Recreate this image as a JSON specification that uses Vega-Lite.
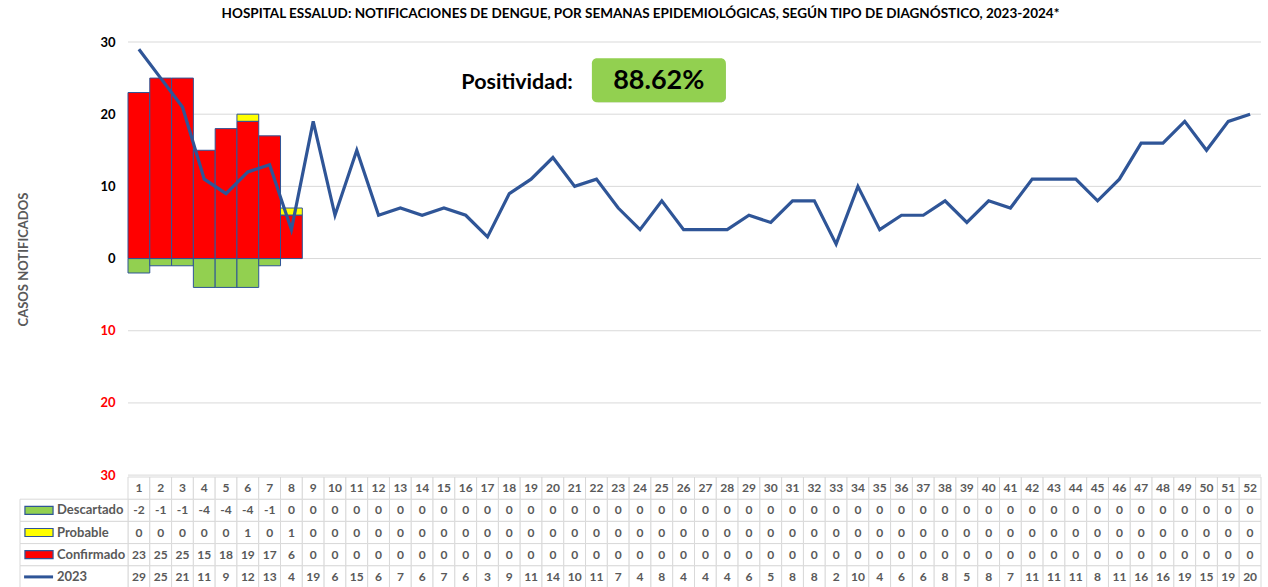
{
  "$schema": "https://vega.github.io/schema/vega-lite/v6.json",
  "autosize": "none",
  "width": 1241,
  "height": 545,
  "padding": {"left": 20, "top": 42, "right": 7, "bottom": 0},
  "title": {
    "text": "HOSPITAL  ESSALUD:  NOTIFICACIONES  DE  DENGUE,  POR SEMANAS EPIDEMIOLÓGICAS,   SEGÚN  TIPO DE DIAGNÓSTICO,  2023-2024*",
    "font": "Lato", "fontSize": 13.5, "fontWeight": "bold", "color": "#000000",
    "anchor": "middle", "offset": 16
  },
  "config": {"view": {"stroke": null}, "font": "Lato"},
  "datasets": {
    "weeks": [
      {"week": 1, "Descartado": -2, "Probable": 0, "Confirmado": 23, "L2023": 29},
      {"week": 2, "Descartado": -1, "Probable": 0, "Confirmado": 25, "L2023": 25},
      {"week": 3, "Descartado": -1, "Probable": 0, "Confirmado": 25, "L2023": 21},
      {"week": 4, "Descartado": -4, "Probable": 0, "Confirmado": 15, "L2023": 11},
      {"week": 5, "Descartado": -4, "Probable": 0, "Confirmado": 18, "L2023": 9},
      {"week": 6, "Descartado": -4, "Probable": 1, "Confirmado": 19, "L2023": 12},
      {"week": 7, "Descartado": -1, "Probable": 0, "Confirmado": 17, "L2023": 13},
      {"week": 8, "Descartado": 0, "Probable": 1, "Confirmado": 6, "L2023": 4},
      {"week": 9, "Descartado": 0, "Probable": 0, "Confirmado": 0, "L2023": 19},
      {"week": 10, "Descartado": 0, "Probable": 0, "Confirmado": 0, "L2023": 6},
      {"week": 11, "Descartado": 0, "Probable": 0, "Confirmado": 0, "L2023": 15},
      {"week": 12, "Descartado": 0, "Probable": 0, "Confirmado": 0, "L2023": 6},
      {"week": 13, "Descartado": 0, "Probable": 0, "Confirmado": 0, "L2023": 7},
      {"week": 14, "Descartado": 0, "Probable": 0, "Confirmado": 0, "L2023": 6},
      {"week": 15, "Descartado": 0, "Probable": 0, "Confirmado": 0, "L2023": 7},
      {"week": 16, "Descartado": 0, "Probable": 0, "Confirmado": 0, "L2023": 6},
      {"week": 17, "Descartado": 0, "Probable": 0, "Confirmado": 0, "L2023": 3},
      {"week": 18, "Descartado": 0, "Probable": 0, "Confirmado": 0, "L2023": 9},
      {"week": 19, "Descartado": 0, "Probable": 0, "Confirmado": 0, "L2023": 11},
      {"week": 20, "Descartado": 0, "Probable": 0, "Confirmado": 0, "L2023": 14},
      {"week": 21, "Descartado": 0, "Probable": 0, "Confirmado": 0, "L2023": 10},
      {"week": 22, "Descartado": 0, "Probable": 0, "Confirmado": 0, "L2023": 11},
      {"week": 23, "Descartado": 0, "Probable": 0, "Confirmado": 0, "L2023": 7},
      {"week": 24, "Descartado": 0, "Probable": 0, "Confirmado": 0, "L2023": 4},
      {"week": 25, "Descartado": 0, "Probable": 0, "Confirmado": 0, "L2023": 8},
      {"week": 26, "Descartado": 0, "Probable": 0, "Confirmado": 0, "L2023": 4},
      {"week": 27, "Descartado": 0, "Probable": 0, "Confirmado": 0, "L2023": 4},
      {"week": 28, "Descartado": 0, "Probable": 0, "Confirmado": 0, "L2023": 4},
      {"week": 29, "Descartado": 0, "Probable": 0, "Confirmado": 0, "L2023": 6},
      {"week": 30, "Descartado": 0, "Probable": 0, "Confirmado": 0, "L2023": 5},
      {"week": 31, "Descartado": 0, "Probable": 0, "Confirmado": 0, "L2023": 8},
      {"week": 32, "Descartado": 0, "Probable": 0, "Confirmado": 0, "L2023": 8},
      {"week": 33, "Descartado": 0, "Probable": 0, "Confirmado": 0, "L2023": 2},
      {"week": 34, "Descartado": 0, "Probable": 0, "Confirmado": 0, "L2023": 10},
      {"week": 35, "Descartado": 0, "Probable": 0, "Confirmado": 0, "L2023": 4},
      {"week": 36, "Descartado": 0, "Probable": 0, "Confirmado": 0, "L2023": 6},
      {"week": 37, "Descartado": 0, "Probable": 0, "Confirmado": 0, "L2023": 6},
      {"week": 38, "Descartado": 0, "Probable": 0, "Confirmado": 0, "L2023": 8},
      {"week": 39, "Descartado": 0, "Probable": 0, "Confirmado": 0, "L2023": 5},
      {"week": 40, "Descartado": 0, "Probable": 0, "Confirmado": 0, "L2023": 8},
      {"week": 41, "Descartado": 0, "Probable": 0, "Confirmado": 0, "L2023": 7},
      {"week": 42, "Descartado": 0, "Probable": 0, "Confirmado": 0, "L2023": 11},
      {"week": 43, "Descartado": 0, "Probable": 0, "Confirmado": 0, "L2023": 11},
      {"week": 44, "Descartado": 0, "Probable": 0, "Confirmado": 0, "L2023": 11},
      {"week": 45, "Descartado": 0, "Probable": 0, "Confirmado": 0, "L2023": 8},
      {"week": 46, "Descartado": 0, "Probable": 0, "Confirmado": 0, "L2023": 11},
      {"week": 47, "Descartado": 0, "Probable": 0, "Confirmado": 0, "L2023": 16},
      {"week": 48, "Descartado": 0, "Probable": 0, "Confirmado": 0, "L2023": 16},
      {"week": 49, "Descartado": 0, "Probable": 0, "Confirmado": 0, "L2023": 19},
      {"week": 50, "Descartado": 0, "Probable": 0, "Confirmado": 0, "L2023": 15},
      {"week": 51, "Descartado": 0, "Probable": 0, "Confirmado": 0, "L2023": 19},
      {"week": 52, "Descartado": 0, "Probable": 0, "Confirmado": 0, "L2023": 20}
    ],
    "rows": [
      {"fila": "Descartado", "label": "Descartado"},
      {"fila": "Probable", "label": "Probable"},
      {"fila": "Confirmado", "label": "Confirmado"},
      {"fila": "L2023", "label": "2023"}
    ],
    "grid": [
      {"v": -30}, {"v": -20}, {"v": -10}, {"v": 0}, {"v": 10}, {"v": 20}, {"v": 30}
    ]
  },
  "layer": [
    {
      "layer": [
        {
          "data": {"name": "grid"},
          "mark": {"type": "rule", "stroke": "#D9D9D9", "strokeWidth": 1},
          "encoding": {
            "y": {
              "field": "v", "type": "quantitative",
              "scale": {"domain": [-45.5, 30], "nice": false, "zero": false},
              "axis": {
                "values": [-30, -20, -10, 0, 10, 20, 30],
                "labelExpr": "abs(datum.value)",
                "labelColor": {"condition": {"test": "datum.value < 0", "value": "#FF0000"}, "value": "#000000"},
                "labelFont": "Lato", "labelFontSize": 13, "labelFontWeight": "bold",
                "labelPadding": 13,
                "domain": false, "ticks": false, "grid": false,
                "offset": -108,
                "title": "CASOS NOTIFICADOS",
                "titleFont": "Lato", "titleFontSize": 13, "titleFontWeight": "bold", "titleColor": "#595959",
                "titleAngle": -90, "titleAlign": "center", "titleBaseline": "middle",
                "titleX": -105, "titleY": 217
              }
            },
            "x": {"datum": 0.5, "type": "quantitative", "scale": {"domain": [-4.457, 52.5], "nice": false, "zero": false, "padding": 0}, "axis": null},
            "x2": {"datum": 52.5}
          }
        },
        {
          "data": {"name": "weeks"},
          "transform": [
            {"fold": ["Descartado", "Probable", "Confirmado"], "as": ["tipo", "n"]},
            {"filter": "datum.n != 0"}
          ],
          "mark": {"type": "bar", "width": 21.79, "stroke": "#2F5597", "strokeWidth": 1},
          "encoding": {
            "x": {"field": "week", "type": "quantitative", "scale": {"domain": [-4.457, 52.5], "nice": false, "zero": false, "padding": 0}, "axis": null},
            "y": {"field": "n", "type": "quantitative", "stack": "zero", "scale": {"domain": [-45.5, 30], "nice": false, "zero": false}},
            "color": {
              "field": "tipo", "type": "nominal",
              "scale": {"domain": ["Descartado", "Probable", "Confirmado"], "range": ["#92D050", "#FFFF00", "#FF0000"]},
              "legend": null
            },
            "order": {"field": "tipo", "sort": "ascending"}
          }
        },
        {
          "data": {"name": "weeks"},
          "mark": {"type": "line", "stroke": "#2F5597", "strokeWidth": 3.2},
          "encoding": {
            "x": {"field": "week", "type": "quantitative", "scale": {"domain": [-4.457, 52.5], "nice": false, "zero": false, "padding": 0}, "axis": null},
            "y": {"field": "L2023", "type": "quantitative", "scale": {"domain": [-45.5, 30], "nice": false, "zero": false}}
          }
        },
        {
          "data": {"values": [{"label": "Positividad:", "pct": "88.62%"}]},
          "layer": [
            {
              "mark": {"type": "rect", "fill": "#595959", "opacity": 0.45, "cornerRadius": 5, "xOffset": 2, "yOffset": 3},
              "encoding": {
                "x": {"datum": 21.79, "type": "quantitative"},
                "x2": {"datum": 27.94},
                "y": {"datum": 27.74, "type": "quantitative"},
                "y2": {"datum": 21.65}
              }
            },
            {
              "mark": {"type": "rect", "fill": "#92D050", "cornerRadius": 5},
              "encoding": {
                "x": {"datum": 21.79, "type": "quantitative"},
                "x2": {"datum": 27.94},
                "y": {"datum": 27.74, "type": "quantitative"},
                "y2": {"datum": 21.65}
              }
            },
            {
              "mark": {"type": "text", "font": "Lato", "fontSize": 27, "fontWeight": "bold", "color": "#000000", "align": "center", "baseline": "middle"},
              "encoding": {
                "x": {"datum": 24.86, "type": "quantitative"},
                "y": {"datum": 24.55, "type": "quantitative"},
                "text": {"field": "pct"}
              }
            },
            {
              "mark": {"type": "text", "font": "Lato", "fontSize": 21.5, "fontWeight": "bold", "color": "#000000", "align": "right", "baseline": "middle"},
              "encoding": {
                "x": {"datum": 20.92, "type": "quantitative"},
                "y": {"datum": 24.3, "type": "quantitative"},
                "text": {"field": "label"}
              }
            }
          ]
        }
      ]
    },
    {
      "layer": [
        {
          "data": {"name": "weeks"},
          "transform": [{"fold": ["Descartado", "Probable", "Confirmado", "L2023"], "as": ["fila", "n"]}],
          "mark": {"type": "rect", "width": 21.79, "fill": "#FFFFFF", "stroke": "#D9D9D9", "strokeWidth": 1},
          "encoding": {
            "x": {"field": "week", "type": "quantitative", "scale": {"domain": [-4.457, 52.5], "nice": false, "zero": false, "padding": 0}, "axis": null},
            "y": {
              "field": "fila", "type": "nominal",
              "scale": {"domain": ["hdr", "Descartado", "Probable", "Confirmado", "L2023"], "range": [435, 546], "paddingInner": 0, "paddingOuter": 0},
              "axis": null
            }
          }
        },
        {
          "data": {"name": "weeks"},
          "mark": {"type": "rect", "width": 21.79, "fill": "#FFFFFF", "stroke": "#D9D9D9", "strokeWidth": 1},
          "encoding": {
            "x": {"field": "week", "type": "quantitative"},
            "y": {"datum": "hdr", "type": "nominal"}
          }
        },
        {
          "data": {"name": "rows"},
          "mark": {"type": "rect", "fill": "#FFFFFF", "stroke": "#D9D9D9", "strokeWidth": 1},
          "encoding": {
            "x": {"datum": -4.457, "type": "quantitative"},
            "x2": {"datum": 0.5},
            "y": {"field": "fila", "type": "nominal"}
          }
        },
        {
          "data": {"name": "weeks"},
          "transform": [{"fold": ["Descartado", "Probable", "Confirmado", "L2023"], "as": ["fila", "n"]}],
          "mark": {"type": "text", "font": "Lato", "fontSize": 12, "fontWeight": "bold", "color": "#595959", "align": "center", "baseline": "middle"},
          "encoding": {
            "x": {"field": "week", "type": "quantitative"},
            "y": {"field": "fila", "type": "nominal"},
            "text": {"field": "n", "type": "nominal"}
          }
        },
        {
          "data": {"name": "weeks"},
          "mark": {"type": "text", "font": "Lato", "fontSize": 12, "fontWeight": "bold", "color": "#595959", "align": "center", "baseline": "middle"},
          "encoding": {
            "x": {"field": "week", "type": "quantitative"},
            "y": {"datum": "hdr", "type": "nominal"},
            "text": {"field": "week", "type": "nominal"}
          }
        },
        {
          "data": {"name": "rows"},
          "mark": {"type": "text", "font": "Lato", "fontSize": 13, "fontWeight": "bold", "color": "#595959", "align": "left", "baseline": "middle"},
          "encoding": {
            "x": {"datum": -2.76, "type": "quantitative"},
            "y": {"field": "fila", "type": "nominal"},
            "text": {"field": "label"}
          }
        },
        {
          "data": {"name": "rows"},
          "transform": [{"filter": "datum.fila != 'L2023'"}],
          "mark": {"type": "bar", "height": 8, "stroke": "#2F5597", "strokeWidth": 1.2},
          "encoding": {
            "x": {"datum": -4.23, "type": "quantitative"},
            "x2": {"datum": -2.94},
            "y": {"field": "fila", "type": "nominal"},
            "color": {"field": "fila", "type": "nominal", "legend": null}
          }
        },
        {
          "data": {"name": "rows"},
          "transform": [{"filter": "datum.fila == 'L2023'"}],
          "mark": {"type": "rule", "stroke": "#2F5597", "strokeWidth": 3},
          "encoding": {
            "x": {"datum": -4.27, "type": "quantitative"},
            "x2": {"datum": -2.94},
            "y": {"field": "fila", "type": "nominal"}
          }
        }
      ]
    }
  ],
  "resolve": {"scale": {"y": "independent"}}
}
